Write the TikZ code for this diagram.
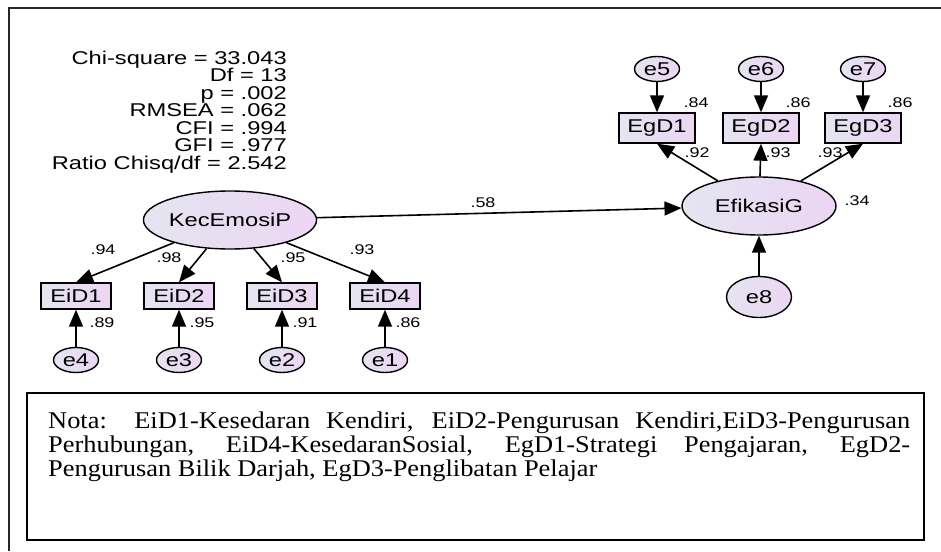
\documentclass[tikz,border=0pt]{standalone}
\usepackage{fontspec}
\setmainfont{Liberation Serif}
\newfontfamily\amosfam[FakeStretch=1.28]{Liberation Sans}
\newfontfamily\notefam[FakeStretch=1.1]{Liberation Serif}
\usetikzlibrary{shapes.geometric,arrows.meta}
\definecolor{fillL}{HTML}{E4E5F0}
\definecolor{fillR}{HTML}{ECD5F3}
\tikzset{
  amostext/.style={font=\amosfam\fontsize{18.5}{17.5}\selectfont},
  lat/.style={ellipse, draw, line width=1.4pt, left color=fillL, right color=fillR, amostext, inner sep=0pt},
  obs/.style={rectangle, draw, line width=1.4pt, left color=fillL, right color=fillR, amostext, inner sep=0pt, minimum width=70pt, minimum height=26pt},
  errv/.style={ellipse, draw, line width=1.4pt, left color=fillL, right color=fillR, amostext, inner sep=0pt, minimum width=45pt, minimum height=25pt},
  pathar/.style={line width=1.6pt, -{Triangle[length=17pt,width=14pt]}},
  coef/.style={font=\amosfam\fontsize{14}{14}\selectfont, inner sep=0pt},
  noteline/.style={anchor=base west, inner sep=0pt, font=\notefam\fontsize{24}{24}\selectfont},
}
\begin{document}
\begin{tikzpicture}[x=1pt,y=-1pt]
\useasboundingbox (0,0) rectangle (941,551);
% outer frame
\draw[line width=2.4pt, black!85] (9,551) -- (9,8) -- (941,8);
% note box
\draw[line width=1.6pt] (27,393) rectangle (924,540);
\node[noteline] (note1) at (48,428) {\makebox[862pt][s]{Nota: EiD1-Kesedaran Kendiri, EiD2-Pengurusan Kendiri,EiD3-Pengurusan}};
\node[noteline] (note2) at (48,452) {\makebox[862pt][s]{Perhubungan, EiD4-KesedaranSosial, EgD1-Strategi Pengajaran, EgD2-}};
\node[noteline] (note3) at (48,476.5) {Pengurusan Bilik Darjah, EgD3-Penglibatan Pelajar};
% statistics
\node[anchor=east, align=right, amostext, inner sep=0pt] (stats) at (287,112)
  {Chi-square = 33.043\\ Df = 13\\ p = .002\\ RMSEA = .062\\ CFI = .994\\ GFI = .977\\ Ratio Chisq/df = 2.542};
% latent variables
\node[lat, minimum width=152pt, minimum height=58pt] (kec) at (230,220) {KecEmosiP};
\node[lat, minimum width=154pt, minimum height=58pt] (efi) at (759,206) {EfikasiG};
% EiD observed
\node[obs] (eid1) at (76,296) {EiD1};
\node[obs] (eid2) at (179,296) {EiD2};
\node[obs] (eid3) at (282,296) {EiD3};
\node[obs] (eid4) at (385,296) {EiD4};
\node[errv] (e4) at (76,360) {e4};
\node[errv] (e3) at (179,360) {e3};
\node[errv] (e2) at (282,360) {e2};
\node[errv] (e1) at (385,360) {e1};
% EgD observed
\node[obs, minimum width=76pt, minimum height=30pt] (egd1) at (657,128) {EgD1};
\node[obs, minimum width=76pt, minimum height=30pt] (egd2) at (761,128) {EgD2};
\node[obs, minimum width=76pt, minimum height=30pt] (egd3) at (863,128) {EgD3};
\node[errv] (e5) at (657,69) {e5};
\node[errv] (e6) at (761,69) {e6};
\node[errv] (e7) at (863,69) {e7};
\node[errv, minimum width=65pt, minimum height=41pt] (e8) at (759,297) {e8};
% connectors
\draw[pathar] (kec) -- (eid1.north);
\draw[pathar] (kec) -- (eid2.north);
\draw[pathar] (kec) -- (eid3.north);
\draw[pathar] (kec) -- (eid4.north);
\draw[pathar] (e4) -- (eid1);
\draw[pathar] (e3) -- (eid2);
\draw[pathar] (e2) -- (eid3);
\draw[pathar] (e1) -- (eid4);
\draw[pathar] (kec) -- (efi);
\draw[pathar] (efi) -- (egd1.south);
\draw[pathar] (efi) -- (egd2.south);
\draw[pathar] (efi) -- (egd3.south);
\draw[pathar] (e5) -- (egd1);
\draw[pathar] (e6) -- (egd2);
\draw[pathar] (e7) -- (egd3);
\draw[pathar] (e8) -- (efi);
% coefficients
\node[coef] (c94) at (103,250) {.94};
\node[coef] (c98) at (169,258) {.98};
\node[coef] (c95) at (293,258) {.95};
\node[coef] (c93a) at (362,250) {.93};
\node[coef] (c89) at (102,323) {.89};
\node[coef] (c95b) at (202,323) {.95};
\node[coef] (c91) at (305,323) {.91};
\node[coef] (c86a) at (408,323) {.86};
\node[coef] (c84) at (696,103) {.84};
\node[coef] (c86b) at (798,103) {.86};
\node[coef] (c86c) at (900,103) {.86};
\node[coef] (c92) at (697,153) {.92};
\node[coef] (c93b) at (778,153) {.93};
\node[coef] (c93c) at (830,153) {.93};
\node[coef] (c34) at (857,201) {.34};
\node[coef] (c58) at (483,203) {.58};
\end{tikzpicture}
\end{document}
